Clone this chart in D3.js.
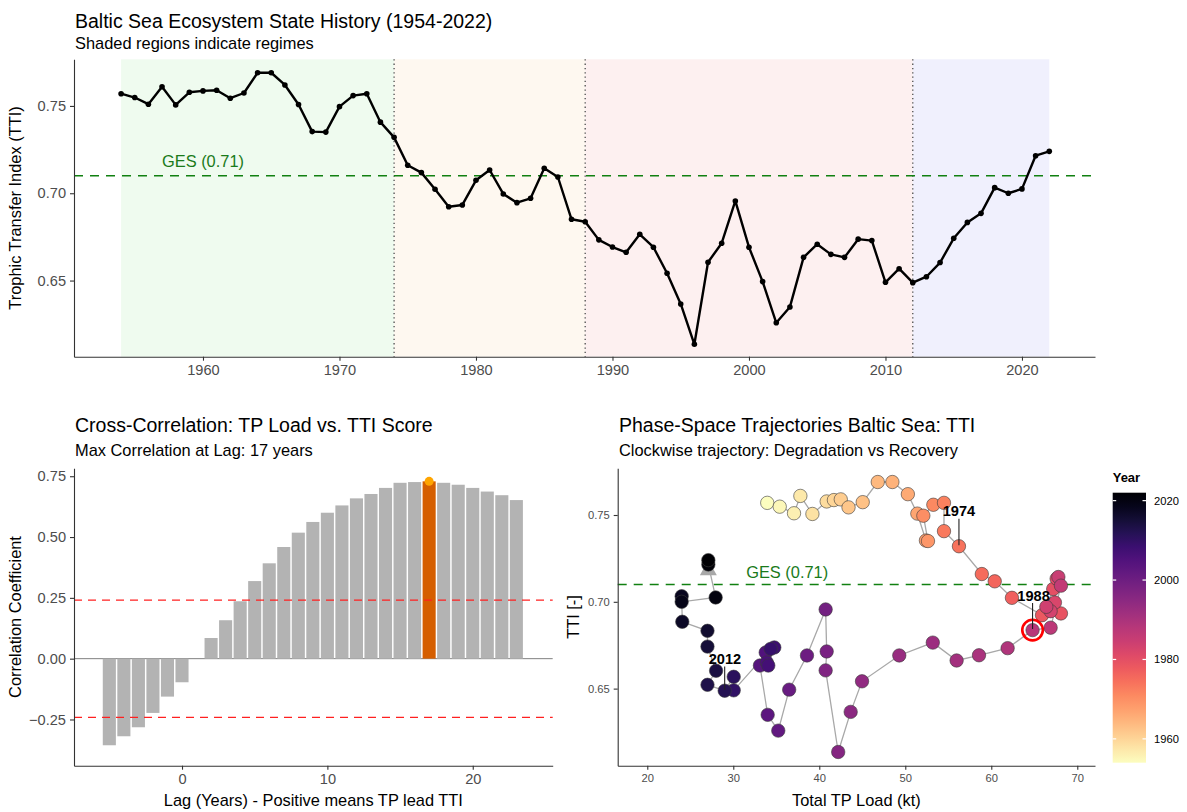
<!DOCTYPE html>
<html>
<head>
<meta charset="utf-8">
<script src="https://cdn.jsdelivr.net/npm/d3@7"></script>
<style>
  html, body { margin: 0; padding: 0; background: #ffffff; }
  svg { display: block; font-family: "Liberation Sans", Arial, sans-serif; }
</style>
</head>
<body>
<svg id="chart" width="1187" height="812"></svg>
<script>
// ---------------- DATA ----------------
const years = d3.range(1954, 2023);
const tti = [
  0.7570, 0.7548, 0.7510, 0.7610, 0.7506, 0.7578, 0.7586, 0.7590, 0.7544, 0.7574,
  0.7690, 0.7690, 0.7620, 0.7508, 0.7353, 0.7350, 0.7496, 0.7559, 0.7570, 0.7407,
  0.7320, 0.7160, 0.7118, 0.7023, 0.6923, 0.6933, 0.7074, 0.7133, 0.6996, 0.6946,
  0.6971, 0.7143, 0.7093, 0.6851, 0.6837, 0.6733, 0.6692, 0.6662, 0.6765, 0.6691,
  0.6542, 0.6366, 0.6135, 0.6605, 0.6714, 0.6956, 0.6691, 0.6494, 0.6258, 0.6349,
  0.6633, 0.6708, 0.6650, 0.6633, 0.6737, 0.6729, 0.6490, 0.6568, 0.6488, 0.6522,
  0.6603, 0.6742, 0.6833, 0.6885, 0.7032, 0.7000, 0.7025, 0.7215, 0.7240
];
const tpLoad = [
  33.95, 35.40, 37.06, 37.80, 39.20, 40.86, 41.70, 42.50, 43.40, 45.05,
  46.80, 48.50, 50.30, 51.40, 52.40, 52.64, 52.10, 53.26, 54.50, 54.50,
  56.24, 58.90, 60.40, 62.40, 65.90, 68.10, 67.20, 67.60, 67.40, 66.90,
  66.40, 67.80, 68.10, 66.90, 64.80, 61.90, 58.57, 55.97, 53.20, 49.30,
  44.97, 43.65, 42.20, 40.74, 40.86, 40.74, 38.57, 36.50, 35.23, 34.00,
  33.10, 33.77, 33.90, 34.07, 34.77, 34.35, 30.05, 30.05, 29.00, 27.00,
  28.00, 27.00, 27.00, 24.07, 24.00, 24.00, 27.95, 27.10, 27.10
];
const regimeStart = [1954, 1974, 1988, 2012];
const regimeEnd   = [1974, 1988, 2012, 2022];
const regimeFill  = ["#effbef", "#fef8f0", "#fdf0f0", "#f0f0fd"];
const breakYears  = [1974, 1988, 2012];
const gesValue = 0.71;
const gesLabel = "GES (0.71)";

const lags = [-5, -4, -3, -2, -1, 0, 1, 2, 3, 4, 5, 6, 7, 8, 9, 10, 11, 12, 13, 14, 15, 16, 17, 18, 19, 20, 21, 22, 23];
const corr = [-0.356, -0.319, -0.282, -0.223, -0.156, -0.097, null, 0.085, 0.158, 0.236, 0.319, 0.392, 0.459, 0.518, 0.562,
              0.600, 0.630, 0.659, 0.677, 0.702, 0.723, 0.726, 0.729, 0.723, 0.715, 0.702, 0.687, 0.672, 0.652];
const maxLag = 17;
const sigLevel = 0.241;

const labelYears = [1974, 1988, 2012];
const highlightYear = 1988;

const topTicksX = [1960, 1970, 1980, 1990, 2000, 2010, 2020];
const topTicksY = [0.65, 0.70, 0.75];
const corrTicksY = [-0.25, 0, 0.25, 0.50, 0.75];
const lagTicks = [0, 10, 20];
const tpTicks = [20, 30, 40, 50, 60, 70];
const phaseTicksY = [0.65, 0.70, 0.75];
const yearTicks = [1960, 1980, 2000, 2020];

// ---------------- SETUP ----------------
const svg = d3.select("#chart");
const FONT_TICK = 14.6, FONT_TITLE = 19.5, FONT_SUB = 16.4, FONT_AXT = 16.4;
const axisColor = "#333333", tickText = "#4d4d4d";

function styleAxis(g, fs) {
  g.select(".domain").attr("stroke", axisColor).attr("stroke-width", 1.1);
  g.selectAll(".tick line").attr("stroke", axisColor).attr("stroke-width", 1.1);
  g.selectAll(".tick text").attr("fill", tickText).attr("font-size", fs)
    .attr("font-family", '"Liberation Sans", Arial, sans-serif');
}
const fmt2 = d3.format(".2f");

// ================= TOP PANEL =================
const xTop = d3.scaleLinear().domain([1950.55, 2025.35]).range([74, 1095]);
const yTop = d3.scaleLinear().domain([0.6064, 0.7767]).range([356.7, 59.3]);
const topG = svg.append("g");

topG.selectAll("rect.regime").data(regimeStart).join("rect")
  .attr("x", (d) => xTop(d))
  .attr("width", (d, i) => xTop(regimeEnd[i]) - xTop(d))
  .attr("y", yTop.range()[1]).attr("height", yTop.range()[0] - yTop.range()[1])
  .attr("fill", (d, i) => regimeFill[i]);

topG.selectAll("line.brk").data(breakYears).join("line")
  .attr("x1", d => xTop(d)).attr("x2", d => xTop(d))
  .attr("y1", yTop.range()[1]).attr("y2", yTop.range()[0])
  .attr("stroke", "#4d4d4d").attr("stroke-width", 1.3).attr("stroke-dasharray", "1.3,3");

topG.append("line")
  .attr("x1", xTop.range()[0]).attr("x2", xTop.range()[1])
  .attr("y1", yTop(gesValue)).attr("y2", yTop(gesValue))
  .attr("stroke", "#118011").attr("stroke-width", 1.5).attr("stroke-dasharray", "9,7");
topG.append("text").attr("x", xTop(1960)).attr("y", yTop(gesValue) - 9)
  .attr("text-anchor", "middle").attr("font-size", 16.4).attr("fill", "#1a7a1a").text(gesLabel);

const lineTop = d3.line().x((d, i) => xTop(years[i])).y(d => yTop(d));
topG.append("path").datum(tti).attr("d", lineTop)
  .attr("fill", "none").attr("stroke", "#000").attr("stroke-width", 2.4).attr("stroke-linejoin", "round");
topG.selectAll("circle.pt").data(tti).join("circle")
  .attr("cx", (d, i) => xTop(years[i])).attr("cy", d => yTop(d)).attr("r", 2.8).attr("fill", "#000");

const axTopX = topG.append("g").attr("transform", `translate(0,${yTop.range()[0]})`)
  .call(d3.axisBottom(xTop).tickValues(topTicksX).tickFormat(d3.format("d")).tickSize(4).tickSizeOuter(0).tickPadding(4));
styleAxis(axTopX, FONT_TICK);
const axTopY = topG.append("g").attr("transform", `translate(${xTop.range()[0]},0)`)
  .call(d3.axisLeft(yTop).tickValues(topTicksY).tickFormat(fmt2).tickSize(4).tickSizeOuter(0).tickPadding(4));
styleAxis(axTopY, FONT_TICK);

svg.append("text").attr("x", 75).attr("y", 28).attr("font-size", FONT_TITLE).attr("fill", "#000")
  .text("Baltic Sea Ecosystem State History (1954-2022)");
svg.append("text").attr("x", 75).attr("y", 49).attr("font-size", FONT_SUB).attr("fill", "#000")
  .text("Shaded regions indicate regimes");
svg.append("text").attr("transform", `translate(21,${(59.3 + 356.7) / 2}) rotate(-90)`)
  .attr("text-anchor", "middle").attr("font-size", FONT_AXT).attr("fill", "#000")
  .text("Trophic Transfer Index (TTI)");

// ================= BOTTOM LEFT: CROSS-CORRELATION =================
const xLag = d3.scaleLinear().domain([-7.43, 25.5]).range([74, 552.7]);
const yCor = d3.scaleLinear().domain([-0.44, 0.7826]).range([765.7, 468.3]);
const ccG = svg.append("g");
const barData = lags.map((l, i) => ({ lag: l, v: corr[i] })).filter(d => d.v !== null);
const bw = xLag(0.45) - xLag(-0.45);

ccG.append("line").attr("x1", xLag.range()[0]).attr("x2", xLag.range()[1])
  .attr("y1", yCor(0)).attr("y2", yCor(0)).attr("stroke", "#808080").attr("stroke-width", 1);

ccG.selectAll("rect.bar").data(barData).join("rect")
  .attr("x", d => xLag(d.lag) - bw / 2).attr("width", bw)
  .attr("y", d => yCor(Math.max(0, d.v))).attr("height", d => Math.abs(yCor(d.v) - yCor(0)))
  .attr("fill", d => d.lag === maxLag ? "#d55e00" : "#b3b3b3");

ccG.selectAll("line.sig").data([sigLevel, -sigLevel]).join("line")
  .attr("x1", xLag.range()[0]).attr("x2", xLag.range()[1])
  .attr("y1", d => yCor(d)).attr("y2", d => yCor(d))
  .attr("stroke", "#ff2020").attr("stroke-width", 1.3).attr("stroke-dasharray", "8,6");

const maxBar = barData.find(d => d.lag === maxLag);
ccG.append("circle").attr("cx", xLag(maxBar.lag)).attr("cy", yCor(maxBar.v)).attr("r", 4.5).attr("fill", "#ffa500");

const axCcX = ccG.append("g").attr("transform", `translate(0,${yCor.range()[0]})`)
  .call(d3.axisBottom(xLag).tickValues(lagTicks).tickFormat(d3.format("d")).tickSize(4).tickSizeOuter(0).tickPadding(4));
styleAxis(axCcX, FONT_TICK);
const axCcY = ccG.append("g").attr("transform", `translate(${xLag.range()[0]},0)`)
  .call(d3.axisLeft(yCor).tickValues(corrTicksY).tickFormat(fmt2).tickSize(4).tickSizeOuter(0).tickPadding(4));
styleAxis(axCcY, FONT_TICK);

svg.append("text").attr("x", 75).attr("y", 432).attr("font-size", FONT_TITLE).attr("fill", "#000")
  .text("Cross-Correlation: TP Load vs. TTI Score");
svg.append("text").attr("x", 75).attr("y", 456).attr("font-size", FONT_SUB).attr("fill", "#000")
  .text("Max Correlation at Lag: " + maxLag + " years");
svg.append("text").attr("x", (74 + 552.7) / 2).attr("y", 806).attr("text-anchor", "middle")
  .attr("font-size", FONT_AXT).attr("fill", "#000").text("Lag (Years) - Positive means TP lead TTI");
svg.append("text").attr("transform", `translate(21,${(468.3 + 765.7) / 2}) rotate(-90)`)
  .attr("text-anchor", "middle").attr("font-size", FONT_AXT).attr("fill", "#000").text("Correlation Coefficient");

// ================= BOTTOM RIGHT: PHASE SPACE =================
const xTP = d3.scaleLinear().domain([16.56, 72.06]).range([617.7, 1095]);
const yPh = d3.scaleLinear().domain([0.6056, 0.7769]).range([765.7, 468.3]);
const colorYear = t => d3.interpolateMagma(1 - (t - 1954) / (2022 - 1954));
const phG = svg.append("g");
const pts = years.map((y, i) => ({ year: y, x: tpLoad[i], y: tti[i] }));

phG.append("line").attr("x1", xTP.range()[0]).attr("x2", xTP.range()[1])
  .attr("y1", yPh(gesValue)).attr("y2", yPh(gesValue))
  .attr("stroke", "#118011").attr("stroke-width", 1.5).attr("stroke-dasharray", "9,7");
phG.append("text").attr("x", xTP(31.5)).attr("y", yPh(gesValue) - 6)
  .attr("text-anchor", "start").attr("font-size", 16.4).attr("fill", "#1a7a1a").text(gesLabel);

const linePh = d3.line().x(d => xTP(d.x)).y(d => yPh(d.y));
phG.append("path").datum(pts).attr("d", linePh)
  .attr("fill", "none").attr("stroke", "#a8a8a8").attr("stroke-width", 1.3);

// arrow head at end of path (direction of last segment)
{
  const a = pts[pts.length - 2], b = pts[pts.length - 1];
  const bx = xTP(b.x), by = yPh(b.y), ax = xTP(a.x), ay = yPh(a.y);
  let dx = bx - ax, dy = by - ay; const len = Math.hypot(dx, dy) || 1; dx /= len; dy /= len;
  const L = 15, hw = 8.5;
  const baseX = bx - dx * L, baseY = by - dy * L;
  const px = -dy, py = dx;
  phG.append("path")
    .attr("d", `M${bx},${by}L${baseX + px * hw},${baseY + py * hw}L${baseX - px * hw},${baseY - py * hw}Z`)
    .attr("fill", "#a8a8a8");
}

phG.selectAll("circle.pp").data(pts).join("circle")
  .attr("cx", d => xTP(d.x)).attr("cy", d => yPh(d.y)).attr("r", 6.7)
  .attr("fill", d => colorYear(d.year)).attr("stroke", "#3a3a3a").attr("stroke-width", 0.6);

// highlight ring
const hp = pts.find(d => d.year === highlightYear);
phG.append("circle").attr("cx", xTP(hp.x)).attr("cy", yPh(hp.y)).attr("r", 10.3)
  .attr("fill", "none").attr("stroke", "#ff0000").attr("stroke-width", 2.6);

// labels with segments
const labOff = { 1974: [0, -30], 1988: [1, -29.5], 2012: [0.3, -26.6] };
labelYears.forEach(yr => {
  const p = pts.find(d => d.year === yr);
  const cx = xTP(p.x), cy = yPh(p.y);
  const [ox, oy] = labOff[yr];
  phG.append("line").attr("x1", cx).attr("x2", cx).attr("y1", cy + oy + 2.5).attr("y2", cy - 1)
    .attr("stroke", "#222").attr("stroke-width", 1.1);
  phG.append("text").attr("x", cx + ox).attr("y", cy + oy).attr("text-anchor", "middle")
    .attr("font-size", 14.6).attr("font-weight", "bold").attr("fill", "#000").text(yr);
});

const axPhX = phG.append("g").attr("transform", `translate(0,${yPh.range()[0]})`)
  .call(d3.axisBottom(xTP).tickValues(tpTicks).tickFormat(d3.format("d")).tickSize(4).tickSizeOuter(0).tickPadding(4));
styleAxis(axPhX, 11.2);
const axPhY = phG.append("g").attr("transform", `translate(${xTP.range()[0]},0)`)
  .call(d3.axisLeft(yPh).tickValues(phaseTicksY).tickFormat(fmt2).tickSize(4).tickSizeOuter(0).tickPadding(4));
styleAxis(axPhY, 11.2);

svg.append("text").attr("x", 619).attr("y", 432).attr("font-size", FONT_TITLE).attr("fill", "#000")
  .text("Phase-Space Trajectories Baltic Sea: TTI");
svg.append("text").attr("x", 619).attr("y", 456).attr("font-size", FONT_SUB).attr("fill", "#000")
  .text("Clockwise trajectory: Degradation vs Recovery");
svg.append("text").attr("x", (617.7 + 1095) / 2).attr("y", 806).attr("text-anchor", "middle")
  .attr("font-size", FONT_AXT).attr("fill", "#000").text("Total TP Load (kt)");
svg.append("text").attr("transform", `translate(579,${(468.3 + 765.7) / 2}) rotate(-90)`)
  .attr("text-anchor", "middle").attr("font-size", FONT_AXT).attr("fill", "#000").text("TTI [-]");

// ================= COLOR LEGEND =================
const yLeg = d3.scaleLinear().domain([1954, 2022]).range([762.7, 492.7]);
const legX = 1112.7, legW = 33.3;
const defs = svg.append("defs");
const grad = defs.append("linearGradient").attr("id", "yearGrad")
  .attr("x1", 0).attr("y1", 1).attr("x2", 0).attr("y2", 0);
grad.selectAll("stop").data(d3.range(0, 1.0001, 0.05)).join("stop")
  .attr("offset", d => d).attr("stop-color", d => colorYear(1954 + d * 68));
svg.append("rect").attr("x", legX).attr("y", yLeg(2022)).attr("width", legW)
  .attr("height", yLeg(1954) - yLeg(2022)).attr("fill", "url(#yearGrad)");
const legTickG = svg.append("g");
yearTicks.forEach(t => {
  legTickG.append("line").attr("x1", legX).attr("x2", legX + 3.5).attr("y1", yLeg(t)).attr("y2", yLeg(t))
    .attr("stroke", "#fff").attr("stroke-width", 1.2);
  legTickG.append("line").attr("x1", legX + legW - 3.5).attr("x2", legX + legW).attr("y1", yLeg(t)).attr("y2", yLeg(t))
    .attr("stroke", "#fff").attr("stroke-width", 1.2);
  legTickG.append("text").attr("x", legX + legW + 8).attr("y", yLeg(t) + 4)
    .attr("font-size", 11.2).attr("fill", "#000").text(t);
});
svg.append("text").attr("x", legX).attr("y", 482).attr("font-size", 13).attr("font-weight", "bold")
  .attr("fill", "#000").text("Year");
</script>
</body>
</html>
